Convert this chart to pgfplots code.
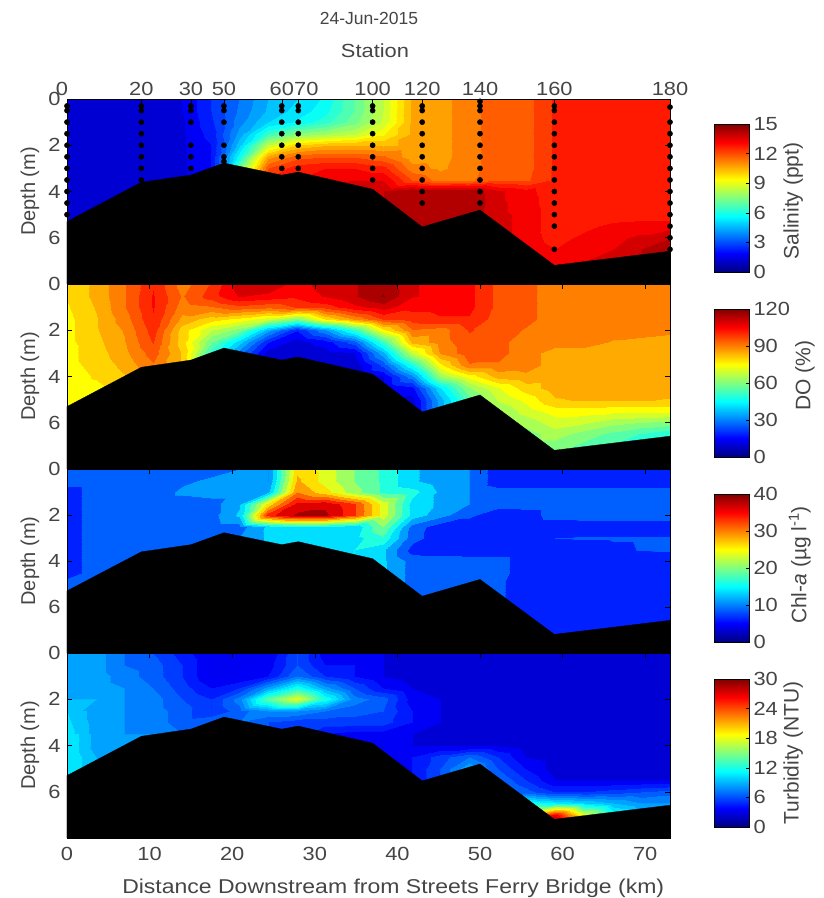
\documentclass[border=0pt]{standalone}
\usepackage{pgfplots}
\usepackage{fontspec}
\setmainfont{Liberation Sans}
\newfontfamily\fxa[FakeStretch=1.15]{Liberation Sans}
\pgfplotsset{compat=1.18}
\definecolor{txt}{gray}{0.27}
% stepped jet colormap: name, bands, first colour position, colour step
\newcommand\mkbands[4]{%
  \gdef\cml{}%
  \pgfmathtruncatemacro\nn{#2-1}%
  \foreach \kk in {0,...,\nn}{%
    \pgfmathsetmacro\valt{#3+\kk*#4}%
    \pgfmathsetmacro\valr{max(0,min(1,1.5-abs(4*\valt-3)))}%
    \pgfmathsetmacro\valg{max(0,min(1,1.5-abs(4*\valt-2)))}%
    \pgfmathsetmacro\valb{max(0,min(1,1.5-abs(4*\valt-1)))}%
    \pgfmathsetmacro\pa{\kk*10}%
    \pgfmathsetmacro\pb{\kk*10+9.9}%
    \xdef\cml{\cml rgb(\pa pt)=(\valr,\valg,\valb); rgb(\pb pt)=(\valr,\valg,\valb);}%
  }%
  \edef\tempa{\noexpand\pgfplotsset{colormap={#1}{\cml}}}\tempa
}
\mkbands{salb}{30}{0.016667}{0.033333}
\mkbands{dob}{25}{0}{0.041667}
\mkbands{chlb}{16}{0.03125}{0.0625}
\mkbands{turb}{30}{0.016667}{0.033333}
\pgfplotsset{
  /pgf/number format/assume math mode=true,
  tick label style={font=\fxa\fontsize{19}{19}\selectfont,text=txt},
  label style={font=\fontsize{20}{20}\selectfont,text=txt},
  panel/.style={anchor=south west,scale only axis,width=603pt,height=185pt,
    xmin=0,xmax=73,ymin=0,ymax=8,y dir=reverse,ytick={0,2,4,6},
    xtick={0,10,...,70},xticklabels={},tick align=inside,tick pos=both,
    major tick length=5pt,axis on top,clip mode=individual,
    ylabel={Depth (m)},
    ylabel style={at={(axis description cs:-0.0614,0.5)},anchor=center,rotate=0},
    y tick label style={xshift=-3pt},
    axis line style={black,line width=0.7pt},tick style={black,line width=0.5pt}},
  cbar/.style={anchor=south west,scale only axis,width=34.5pt,height=148pt,
    xmin=0,xmax=1,xtick=\empty,ymin=0,colormap/jet,tick align=inside,
    ytick pos=right,yticklabel pos=right,major tick length=3pt,axis on top,
    axis line style={black,line width=0.7pt},tick style={black,line width=0.5pt},
    y tick label style={xshift=1pt},label style={font=\fontsize{21}{21}\selectfont,text=txt}},
  /pgfplots/table/gridt/.style={x expr={mod(\coordindex,22)*73/21},y expr={floor(\coordindex/22)*0.5},meta index=0}
}
\newcommand\bottomfill{\addplot[black,fill=black,line width=0.3pt] coordinates {(0,5.3)(9,3.6)(15,3.29)(19,2.77)(26,3.29)(28,3.16)(37,3.9)(43,5.53)(50,4.8)(59,7.19)(73,6.58)(73,8)(0,8)} --cycle;}
\begin{document}
\begin{tikzpicture}[x=1pt,y=1pt]
\path[use as bounding box] (0pt,0pt) rectangle (824pt,898pt);

% ---------- Salinity
\begin{axis}[panel,at={(67pt,614pt)},colormap name=salb,point meta min=0,point meta max=15,
  xtick={0,9,15,19,26,28,37,43,50,59,73},
  xticklabels={0\hspace*{10pt},20,30,50,60,\hspace*{16pt}70,100,120,140,160,180},
  xticklabel pos=top,x tick label style={yshift=0pt}]
\addplot[surf,shader=interp,mesh/cols=22,point meta=explicit] table[row sep=\\,header=false,gridt] {
1\\1\\1\\1\\1.5\\2.5\\3.5\\4.5\\5\\5.6\\7\\8.5\\10.6\\10.8\\11.3\\11.8\\11.8\\12.6\\12.6\\12.6\\12.6\\12.6\\
1\\1\\1\\1\\1.5\\2.5\\3.6\\4.6\\5.2\\5.8\\7\\8.5\\10.6\\10.8\\11.3\\11.8\\11.8\\12.6\\12.6\\12.6\\12.6\\12.6\\
1\\1\\1\\1\\1.4\\2.4\\3.8\\5\\5.6\\6.3\\7.3\\8.6\\10.6\\10.8\\11.3\\11.8\\11.8\\12.6\\12.6\\12.6\\12.6\\12.6\\
1\\1\\1\\1\\1.4\\2.2\\4.2\\6.5\\7.6\\8\\8.4\\9.4\\10.6\\10.8\\11.3\\11.8\\11.8\\12.6\\12.6\\12.6\\12.6\\12.6\\
1\\1\\1\\1\\1.4\\2\\4.8\\8.5\\10\\10.4\\10.5\\10.4\\10.6\\10.8\\11.3\\11.8\\11.8\\12.6\\12.6\\12.6\\12.6\\12.6\\
1\\1\\1\\1\\1.4\\2\\5.8\\10.8\\11.8\\12\\12\\11.6\\10.7\\10.8\\11.3\\11.8\\11.8\\12.6\\12.6\\12.6\\12.6\\12.6\\
1\\1\\1\\1\\1.4\\2\\7\\12\\12.8\\13\\13\\12.7\\11.2\\10.9\\11.3\\11.8\\11.8\\12.6\\12.6\\12.6\\12.6\\12.6\\
1\\1\\1\\1\\1.4\\2.2\\7.5\\12.5\\13\\13.4\\13.5\\13.5\\12\\11.3\\11.4\\11.9\\11.9\\12.6\\12.6\\12.6\\12.6\\12.6\\
1\\1\\1\\1\\1.4\\2.2\\8\\13\\13.2\\13.6\\14\\14\\14.5\\14.5\\14.4\\13.6\\13.2\\12.6\\12.6\\12.6\\12.6\\12.6\\
1\\1\\1\\1\\1.4\\2.2\\8\\13\\13.2\\13.6\\14\\14\\14.5\\14.5\\14.5\\13.6\\13.3\\12.6\\12.6\\12.6\\12.6\\12.6\\
1\\1\\1\\1\\1.4\\2.2\\8\\13\\13.2\\13.6\\14\\14\\14.5\\14.5\\14.4\\13.6\\13.4\\12.6\\12.6\\12.6\\12.7\\12.7\\
1\\1\\1\\1\\1.4\\2.2\\8\\13\\13.2\\13.6\\14\\14\\14.5\\14.5\\14.4\\13.6\\13.4\\12.6\\12.8\\13.2\\13.3\\13.3\\
1\\1\\1\\1\\1.4\\2.2\\8\\13\\13.2\\13.6\\14\\14\\14.5\\14.5\\14.4\\13.6\\13.4\\12.7\\13.2\\13.4\\13.6\\14\\
1\\1\\1\\1\\1.4\\2.2\\8\\13\\13.2\\13.6\\14\\14\\14.5\\14.5\\14.4\\13.6\\13.5\\13\\13.3\\13.5\\14\\14.2\\
1\\1\\1\\1\\1.4\\2.2\\8\\13\\13.2\\13.6\\14\\14\\14.5\\14.5\\14.4\\13.6\\13.5\\13.2\\13.5\\13.6\\14\\14.2\\
1\\1\\1\\1\\1.4\\2.2\\8\\13\\13.2\\13.6\\14\\14\\14.5\\14.5\\14.4\\13.6\\13.5\\13.2\\13.5\\13.6\\14\\14.2\\
};
\bottomfill
\addplot[only marks,mark=*,mark size=2.6pt,black] coordinates {
(0,.3)(0,.5)(0,1)(0,1.5)(0,2)(0,2.5)(0,3)(0,3.5)(0,4)(0,4.5)(0,5)
(9,.3)(9,.5)(9,1)(9,1.5)(9,2)(9,2.5)(9,3)(9,3.5)
(15,.3)(15,.5)(15,1)(15,2)(15,2.5)(15,3)
(19,.3)(19,.5)(19,1)(19,2)(19,2.5)(19,2.7)
(26,.3)(26,.5)(26,1)(26,1.5)(26,2)(26,2.5)(26,3)
(28,.3)(28,.5)(28,1)(28,1.5)(28,2)(28,2.5)(28,3)
(37,.3)(37,.5)(37,1)(37,1.5)(37,2)(37,2.5)(37,3)(37,3.5)
(43,.3)(43,.5)(43,1)(43,1.5)(43,2)(43,2.5)(43,3)(43,3.5)(43,4)(43,4.5)
(50,.1)(50,.3)(50,.5)(50,1)(50,1.5)(50,2)(50,2.5)(50,3)(50,3.5)(50,4)(50,4.5)
(59,.3)(59,.5)(59,1)(59,1.5)(59,2)(59,2.5)(59,3)(59,3.5)(59,4)(59,4.5)(59,5)(59,5.5)(59,6.5)
(73,.35)(73,1)(73,1.5)(73,2)(73,2.5)(73,3)(73,3.5)(73,4)(73,4.5)(73,5)(73,5.5)(73,6)(73,6.5)};
\end{axis}

% ---------- DO
\begin{axis}[panel,at={(67pt,429pt)},colormap name=dob,point meta min=-2.5,point meta max=122.5]
\addplot[surf,shader=interp,mesh/cols=22,point meta=explicit] table[row sep=\\,header=false,gridt] {
78\\84\\92\\102\\90\\98\\110\\112\\105\\110\\112\\116\\108\\106\\104\\96\\94\\90\\90\\90\\90\\90\\
78\\84\\92\\103\\92\\100\\108\\106\\104\\108\\112\\118\\108\\106\\104\\96\\94\\90\\90\\90\\90\\90\\
77\\83\\92\\103\\90\\92\\96\\94\\98\\100\\106\\110\\104\\104\\104\\96\\94\\90\\90\\90\\90\\90\\
76\\82\\90\\102\\86\\80\\76\\70\\60\\78\\88\\98\\100\\102\\102\\95\\94\\90\\90\\90\\90\\90\\
76\\82\\88\\100\\80\\68\\60\\35\\18\\32\\50\\76\\92\\90\\98\\95\\92\\90\\90\\90\\90\\89\\
76\\81\\87\\98\\80\\58\\40\\18\\10\\15\\25\\52\\84\\90\\96\\94\\90\\90\\90\\87\\86\\85\\
76\\80\\86\\95\\82\\50\\30\\10\\8\\10\\12\\36\\68\\88\\96\\94\\90\\85\\85\\85\\85\\85\\
76\\79\\84\\92\\82\\50\\30\\10\\8\\8\\8\\24\\48\\76\\92\\92\\90\\85\\85\\85\\85\\85\\
76\\78\\82\\90\\82\\50\\30\\10\\8\\8\\8\\12\\30\\62\\74\\84\\86\\85\\85\\85\\85\\85\\
75\\76\\82\\90\\82\\50\\30\\10\\8\\8\\8\\12\\16\\42\\62\\72\\80\\85\\85\\85\\85\\85\\
75\\76\\82\\90\\82\\50\\30\\10\\8\\8\\8\\12\\10\\35\\55\\68\\74\\82\\83\\83\\83\\82\\
74\\76\\82\\90\\82\\50\\30\\10\\8\\8\\8\\12\\10\\35\\55\\62\\70\\75\\75\\74\\74\\74\\
74\\76\\82\\90\\82\\50\\30\\10\\8\\8\\8\\12\\10\\35\\55\\60\\64\\70\\68\\64\\62\\60\\
74\\76\\82\\90\\82\\50\\30\\10\\8\\8\\8\\12\\10\\35\\55\\60\\60\\65\\60\\56\\52\\48\\
74\\76\\82\\90\\82\\50\\30\\10\\8\\8\\8\\12\\10\\35\\55\\60\\60\\60\\56\\52\\48\\45\\
74\\76\\82\\90\\82\\50\\30\\10\\8\\8\\8\\12\\10\\35\\55\\60\\60\\58\\55\\50\\46\\45\\
};
\bottomfill
\end{axis}

% ---------- Chl-a
\begin{axis}[panel,at={(67pt,245pt)},height=184pt,colormap name=chlb,point meta min=0,point meta max=40]
\addplot[surf,shader=interp,mesh/cols=22,point meta=explicit] table[row sep=\\,header=false,gridt] {
8\\8\\8\\8.5\\8.5\\9\\10\\10\\27\\24\\20\\17\\13\\11\\10\\6\\6\\6\\6\\6\\6\\6\\
8\\8\\8\\8.5\\9.5\\10.5\\11\\10\\28\\24\\20\\17\\13\\11\\10\\6\\6\\6\\6\\6\\6\\6\\
7\\8\\8\\8.5\\10.5\\11\\11\\12\\30\\26\\21\\17\\16\\12\\10\\8.5\\8.5\\8.5\\8.5\\8.5\\8.5\\8.5\\
7\\8\\8\\8.5\\8.5\\9\\12\\26\\36\\37\\33\\24\\14\\12\\10\\8.5\\8.5\\8.5\\8.5\\8.5\\8.5\\8.5\\
7\\8\\8\\8.5\\8.5\\9\\13\\34\\38\\38\\33\\24\\14\\11\\8\\6\\6.5\\8.5\\8.5\\8.5\\8.5\\8.5\\
7\\8\\8\\8.5\\8.5\\8.5\\9\\13\\14\\14\\13\\20\\9\\6\\6\\6\\6\\6\\6.2\\6.2\\6.2\\6.2\\
7\\8\\8\\8.5\\8.5\\9\\10\\13\\14\\14\\14\\17\\8.5\\6\\6\\6\\6\\7.5\\7.7\\7.7\\7.7\\7.7\\
7\\8\\8\\8.5\\8.5\\9\\10\\13\\14\\14\\15\\13\\6.5\\6\\6\\6\\6\\6\\6.2\\7\\7.6\\7.7\\
7\\8\\8\\8.5\\8.5\\9\\10\\13\\14\\14\\15\\13\\9\\9\\8.5\\8.5\\6\\6\\6\\6\\6\\6\\
7\\8\\8\\8.5\\8.5\\9\\10\\13\\14\\14\\15\\13\\9\\9\\9\\8.5\\6\\6\\6\\6\\6\\6\\
8\\8\\8\\8.5\\8.5\\9\\10\\13\\14\\14\\15\\13\\9\\9\\9\\8\\6\\6\\6\\6\\6\\6\\
8\\8\\8\\8.5\\8.5\\9\\10\\13\\14\\14\\15\\13\\9\\9\\9\\8\\6\\6\\6\\6\\6\\6\\
8\\8\\8\\8.5\\8.5\\9\\10\\13\\14\\14\\15\\13\\9\\9\\9\\8\\6\\6\\6\\6\\6\\6\\
8\\8\\8\\8.5\\8.5\\9\\10\\13\\14\\14\\15\\13\\9\\9\\9\\8\\6\\6\\6\\6\\6\\6\\
8\\8\\8\\8.5\\8.5\\9\\10\\13\\14\\14\\15\\13\\9\\9\\9\\8\\6\\6\\6\\6\\6\\6\\
8\\8\\8\\8.5\\8.5\\9\\10\\13\\14\\14\\15\\13\\9\\9\\9\\8\\6\\6\\6\\6\\6\\6\\
};
\bottomfill
\end{axis}

% ---------- Turbidity
\begin{axis}[panel,at={(67pt,60pt)},colormap name=turb,point meta min=0,point meta max=30,
  xticklabels={0,10,20,30,40,50,60,70},tick pos=both,xticklabel pos=bottom,
  x tick label style={yshift=-6pt},
  xlabel={\fxa Distance Downstream from Streets Ferry Bridge (km)},
  xlabel style={at={(axis description cs:0.541,-0.27)},anchor=center}]
\addplot[surf,shader=interp,mesh/cols=22,point meta=explicit] table[row sep=\\,header=false,gridt] {
8.5\\8.5\\7\\6\\4.5\\3\\3\\3\\6\\3.5\\3.5\\3\\2.5\\2.5\\2.5\\2.5\\2.5\\2.5\\2.5\\2.5\\2.5\\2.5\\
8.5\\8.5\\7\\6.5\\5\\3\\3\\3.5\\6\\4\\4\\3\\2.5\\2.5\\2.5\\2.5\\2.5\\2.5\\2.5\\2.5\\2.5\\2.5\\
8.5\\8.5\\7.5\\6.5\\5\\3\\3\\4\\7\\5\\4\\3\\2.5\\2.5\\2.5\\2.5\\2.5\\2.5\\2.5\\2.5\\2.5\\2.5\\
8.5\\8.5\\8\\7\\5.5\\4\\5\\8.5\\12\\8.5\\6\\4\\3\\2.5\\2.5\\2.5\\2.5\\2.5\\2.5\\2.5\\2.5\\2.5\\
9\\9\\8\\7.5\\6\\5\\7.5\\14\\18\\12\\7.5\\6.5\\3.5\\3\\2.5\\2.5\\2.5\\2.5\\2.5\\2.5\\2.5\\2.5\\
9.5\\8.5\\8\\7.5\\6.5\\5\\6.5\\8\\8\\7\\6.5\\6\\4\\3\\2.5\\2.5\\2.5\\2.5\\2.5\\2.5\\2.5\\2.5\\
10\\8.5\\8\\7.5\\6.5\\7\\7\\6\\5.5\\5.5\\5.5\\5.5\\4\\3\\2.5\\2.5\\2.5\\2.5\\2.5\\2.5\\2.5\\2.5\\
10.5\\8.5\\8\\8\\7\\7\\7\\6\\5.5\\4\\3.5\\3.5\\3\\2.5\\2.5\\2.5\\2.5\\2.5\\2.5\\2.5\\2.5\\2.5\\
11\\8.5\\8.5\\8\\7\\7\\7\\6\\5.5\\4\\3.5\\3.5\\3\\3\\3\\3\\2.5\\2.5\\2.5\\2.5\\2.5\\2.5\\
11\\9\\8.5\\8\\7\\7\\7\\6\\5.5\\4\\3.5\\3.5\\4\\5.5\\7\\5\\3\\2.5\\2.5\\2.5\\2.5\\2.5\\
11\\9\\8.5\\8\\7\\7\\7\\6\\5.5\\4\\3.5\\3.5\\4\\6\\9\\6\\4\\2.5\\2.5\\2.5\\2.5\\2.5\\
11\\9\\8.5\\8\\7\\7\\7\\6\\5.5\\4\\3.5\\3.5\\4\\6\\9\\7\\5\\3\\3\\3\\3\\3\\
11\\9\\8.5\\8\\7\\7\\7\\6\\5.5\\4\\3.5\\3.5\\4\\6\\9\\8\\6.5\\5\\5\\5.5\\6\\6.5\\
11\\9\\8.5\\8\\7\\7\\7\\6\\5.5\\4\\3.5\\3.5\\4\\6\\9\\8\\12\\11\\10\\9\\8\\8\\
11\\9\\8.5\\8\\7\\7\\7\\6\\5.5\\4\\3.5\\3.5\\4\\6\\9\\8\\20\\27\\18\\12\\9\\9\\
11\\9\\8.5\\8\\7\\7\\7\\6\\5.5\\4\\3.5\\3.5\\4\\6\\9\\8\\24\\30\\22\\14\\9\\9\\
};
\bottomfill
\end{axis}

% ---------- colour bars
\begin{axis}[cbar,at={(714.5pt,626pt)},ymax=15,ytick={0,3,...,15},
  ylabel={Salinity (ppt)},ylabel style={at={(axis description cs:2.28,0.48)},anchor=center,rotate=0}]
\addplot[surf,shader=interp,mesh/cols=2,point meta=y] coordinates {(0,0)(1,0)(0,15)(1,15)};
\end{axis}
\begin{axis}[cbar,at={(714.5pt,441pt)},ymax=120,ytick={0,30,...,120},
  ylabel={DO (\%)},ylabel style={at={(axis description cs:2.62,0.55)},anchor=center,rotate=0}]
\addplot[surf,shader=interp,mesh/cols=2,point meta=y] coordinates {(0,0)(1,0)(0,120)(1,120)};
\end{axis}
\begin{axis}[cbar,at={(714.5pt,256pt)},ymax=40,ytick={0,10,...,40},
  ylabel={Chl-\textit{a} (µg l\textsuperscript{-1})},ylabel style={at={(axis description cs:2.47,0.52)},anchor=center,rotate=0}]
\addplot[surf,shader=interp,mesh/cols=2,point meta=y] coordinates {(0,0)(1,0)(0,40)(1,40)};
\end{axis}
\begin{axis}[cbar,at={(714.5pt,71pt)},ymax=30,ytick={0,6,...,30},
  ylabel={Turbidity (NTU)},ylabel style={at={(axis description cs:2.28,0.5)},anchor=center,rotate=0}]
\addplot[surf,shader=interp,mesh/cols=2,point meta=y] coordinates {(0,0)(1,0)(0,30)(1,30)};
\end{axis}

\node[font=\fontsize{17.5}{18}\selectfont,text=txt] at (369pt,880pt) {24-Jun-2015};
\node[font=\fxa\fontsize{19}{20}\selectfont,text=txt] at (375pt,847pt) {Station};
\end{tikzpicture}
\end{document}
